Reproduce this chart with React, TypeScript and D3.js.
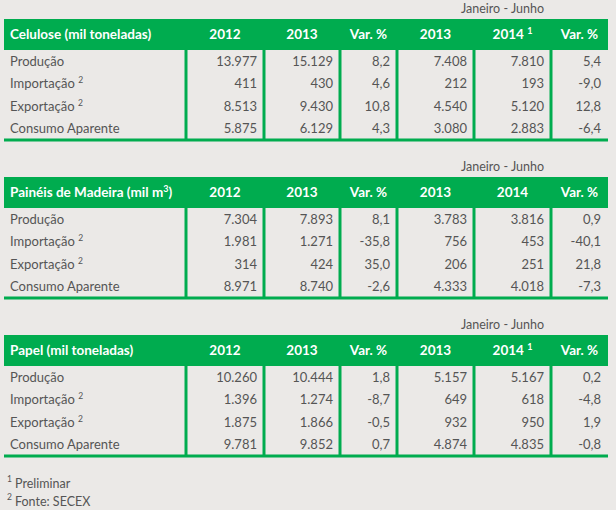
import React from "react";
import * as d3 from "d3";

// row labels and their footnote marks
const rowLabels = ["Produção", "Importação", "Exportação", "Consumo Aparente"];
const rowNotes = ["", "2", "2", ""];
const columnLabels = ["2012", "2013", "Var. %", "2013", "2014", "Var. %"];
const periodLabel = "Janeiro - Junho";

// Celulose (mil toneladas)
const celulose2012 = [13977, 411, 8513, 5875];
const celulose2013 = [15129, 430, 9430, 6129];
const celuloseVar = [8.2, 4.6, 10.8, 4.3];
const celuloseJJ2013 = [7408, 212, 4540, 3080];
const celuloseJJ2014 = [7810, 193, 5120, 2883];
const celuloseVarJJ = [5.4, -9.0, 12.8, -6.4];

// Painéis de Madeira (mil m3)
const paineis2012 = [7304, 1981, 314, 8971];
const paineis2013 = [7893, 1271, 424, 8740];
const paineisVar = [8.1, -35.8, 35.0, -2.6];
const paineisJJ2013 = [3783, 756, 206, 4333];
const paineisJJ2014 = [3816, 453, 251, 4018];
const paineisVarJJ = [0.9, -40.1, 21.8, -7.3];

// Papel (mil toneladas)
const papel2012 = [10260, 1396, 1875, 9781];
const papel2013 = [10444, 1274, 1866, 9852];
const papelVar = [1.8, -8.7, -0.5, 0.7];
const papelJJ2013 = [5157, 649, 932, 4874];
const papelJJ2014 = [5167, 618, 950, 4835];
const papelVarJJ = [0.2, -4.8, 1.9, -0.8];

const footnotes = [
  { mark: "1", text: "Preliminar" },
  { mark: "2", text: "Fonte: SECEX" },
];

const tables = [
  {
    title: "Celulose (mil toneladas)",
    sup: "",
    note2014: "1",
    cols: [celulose2012, celulose2013, celuloseVar, celuloseJJ2013, celuloseJJ2014, celuloseVarJJ],
  },
  {
    title: "Painéis de Madeira (mil m",
    sup: "3",
    note2014: "",
    cols: [paineis2012, paineis2013, paineisVar, paineisJJ2013, paineisJJ2014, paineisVarJJ],
  },
  {
    title: "Papel (mil toneladas)",
    sup: "",
    note2014: "1",
    cols: [papel2012, papel2013, papelVar, papelJJ2013, papelJJ2014, papelVarJJ],
  },
];

const W = 616;
const H = 510;
const GREEN = "#00ac4f";
const BG = "#ebe9e7";
const TEXT = "#555555";
const FONT = "Lato, 'Open Sans', sans-serif";

const locale = d3.formatLocale({
  decimal: ",",
  thousands: ".",
  grouping: [3],
  currency: ["", ""],
  minus: "-",
});
const fmtInt = locale.format(",d");
const fmtPct = locale.format(",.1f");

// column widths: label column then the six data columns
const colWidths = [182, 78, 76, 57, 77, 77, 57];
const left = 4;
const edges = [left, ...Array.from(d3.cumsum(colWidths), (d) => left + d)];

const headerH = 31;
const rowH = 22.5;

const tableY = d3.scaleBand<number>().domain([0, 1, 2]).range([19, 19 + 158 * 3]);
const noteY = d3.scaleBand<number>().domain([0, 1]).range([474, 510]);

function Table({ t, top }: { t: (typeof tables)[number]; top: number }) {
  const headerBottom = top + headerH;
  const y = d3
    .scaleBand<string>()
    .domain(rowLabels)
    .range([headerBottom, headerBottom + rowH * rowLabels.length]);
  const bottom = headerBottom + rowH * rowLabels.length;
  const jjCenter = (edges[4] + edges[7]) / 2;

  return (
    <g>
      <text x={jjCenter} y={top - 10} dy="0.35em" textAnchor="middle" fill={TEXT} fontSize={12.5}>
        {periodLabel}
      </text>
      <rect x={edges[0]} y={top} width={edges[7] - edges[0]} height={headerH} fill={GREEN} />
      <text x={edges[0] + 6} y={top + headerH / 2} dy="0.35em" fill="#fff" fontSize={13.5} fontWeight={700}>
        {t.title}
        {t.sup && (
          <>
            <tspan dy={-5} fontSize={9}>{t.sup}</tspan>
            <tspan dy={5}>)</tspan>
          </>
        )}
      </text>
      {columnLabels.map((c, i) => (
        <text
          key={i}
          x={(edges[i + 1] + edges[i + 2]) / 2}
          y={top + headerH / 2}
          dy="0.35em"
          textAnchor="middle"
          fill="#fff"
          fontSize={13.5}
          fontWeight={700}
        >
          {c}
          {i === 4 && t.note2014 && (
            <>
              <tspan> </tspan>
              <tspan dy={-5} fontSize={9}>{t.note2014}</tspan>
            </>
          )}
        </text>
      ))}
      {rowLabels.map((r, ri) => {
        const cy = (y(r) as number) + y.bandwidth() / 2;
        return (
          <g key={r}>
            <text x={edges[0] + 6} y={cy} dy="0.35em" fill={TEXT} fontSize={13}>
              {r}
              {rowNotes[ri] && (
                <>
                  <tspan> </tspan>
                  <tspan dy={-5} fontSize={8.5}>{rowNotes[ri]}</tspan>
                </>
              )}
            </text>
            {t.cols.map((col, ci) => (
              <text
                key={ci}
                x={edges[ci + 2] - 7}
                y={cy}
                dy="0.35em"
                textAnchor="end"
                fill={TEXT}
                fontSize={13}
              >
                {ci === 2 || ci === 5 ? fmtPct(col[ri]) : fmtInt(col[ri])}
              </text>
            ))}
          </g>
        );
      })}
      {edges.slice(1, 7).map((x, i) => (
        <line key={i} x1={x} x2={x} y1={headerBottom} y2={bottom} stroke={GREEN} strokeWidth={3} />
      ))}
      <line x1={edges[0]} x2={edges[7]} y1={bottom} y2={bottom} stroke={GREEN} strokeWidth={3} />
    </g>
  );
}

export default function App() {
  return (
    <div style={{ position: "absolute", left: 0, top: 0 }}>
      <svg width={W} height={H} fontFamily={FONT} style={{ display: "block" }}>
        <rect width={W} height={H} fill={BG} />
        {tables.map((t, i) => (
          <Table key={i} t={t} top={tableY(i) as number} />
        ))}
        {footnotes.map((f, i) => {
          const cy = (noteY(i) as number) + noteY.bandwidth() / 2 + 1;
          return (
            <g key={i}>
              <text x={7} y={cy - 5} dy="0.35em" fill={TEXT} fontSize={8.5}>
                {f.mark}
              </text>
              <text x={15} y={cy} dy="0.35em" fill={TEXT} fontSize={12.5}>
                {f.text}
              </text>
            </g>
          );
        })}
      </svg>
    </div>
  );
}
